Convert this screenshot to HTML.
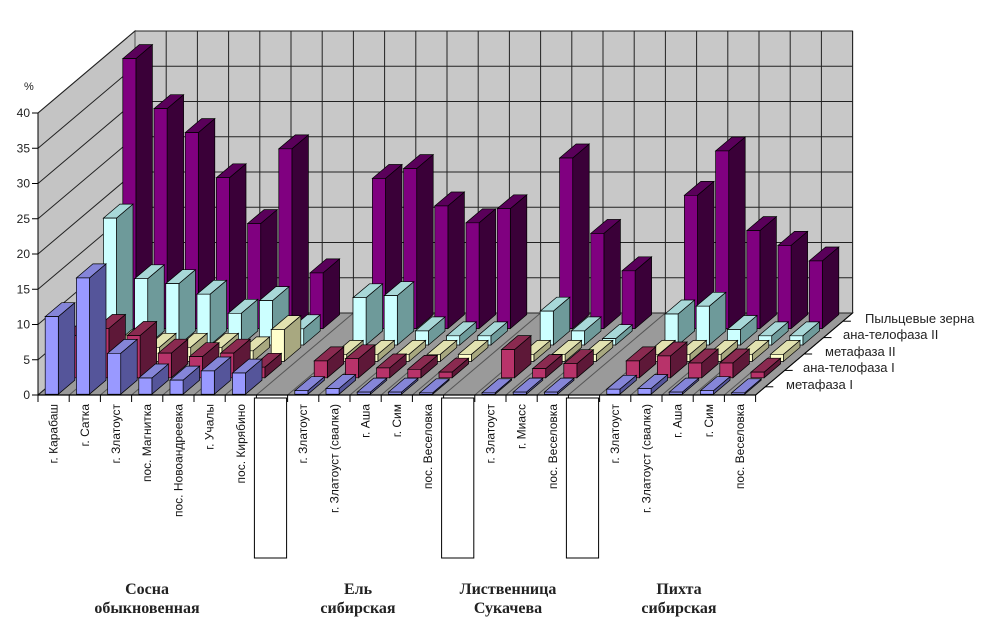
<!DOCTYPE html>
<html><head><meta charset="utf-8"><style>
html,body{margin:0;padding:0;background:#fff;}
svg{display:block;font-family:"Liberation Sans","DejaVu Sans",sans-serif;}
</style></head><body>
<svg id="chart" width="1004" height="643" viewBox="0 0 1004 643" xmlns="http://www.w3.org/2000/svg">
<g id="walls"></g>
<g id="bars"></g>
<g id="axes"></g>
</svg>
<script>
const categories = ["г. Карабаш","г. Сатка","г. Златоуст","пос. Магнитка","пос. Новоандреевка","г. Учалы","пос. Кирябино","",
 "г. Златоуст","г. Златоуст  (свалка)","г. Аша","г. Сим","пос. Веселовка","",
 "г. Златоуст","г. Миасс","пос. Веселовка","",
 "г. Златоуст","г. Златоуст  (свалка)","г. Аша","г. Сим","пос. Веселовка"];
const seriesNames = ["метафаза I","ана-телофаза I","метафаза II","ана-телофаза  II","Пыльцевые зерна"];
const metaphaseI   = [11,16.5,5.8,2.3,2,3.3,3,null, 0.5,0.8,0.3,0.3,0.2,null, 0.2,0.3,0.3,null, 0.7,0.8,0.3,0.5,0.2];
const anaTeloI     = [6,7,6,3.5,3,3.5,1.5,null, 2.4,2.7,1.4,1.2,0.8,null, 4,1.3,2,null, 2.4,3.1,2.1,2.1,0.8];
const metaphaseII  = [2,2.5,2,2,2,1.5,4.5,null, 1,1,1,1,1,null, 1,1,1,null, 1,1,1,1,1];
const anaTeloII    = [18,9.4,8.7,7.2,4.5,6.3,2.3,null, 6.7,7,2,1.3,1.3,null, 4.8,2,0.9,null, 4.4,5.5,2.2,1.3,1.3];
const pollen       = [38.3,31.2,27.8,21.4,14.9,25.5,7.9,null, 21.3,22.7,17.4,15,17,null, 24.2,13.5,8.2,null, 18.9,25.2,13.9,11.8,9.6];
const yTicks = [0,5,10,15,20,25,30,35,40];
const groupLabels = [["Сосна","обыкновенная"],["Ель","сибирская"],["Лиственница","Сукачева"],["Пихта","сибирская"]];
const groupCenters = [147,358,508,679];

const NS="http://www.w3.org/2000/svg";
const X0=38,Y0=395,CW=31.2,DX=19.4,DY=16.4,VS=7.05;
function P(cx,d,v){return [X0+CW*cx+DX*d, Y0-DY*d-VS*v];}
function mk(tag,attrs,parent){const e=document.createElementNS(NS,tag);for(const k in attrs)e.setAttribute(k,attrs[k]);parent.appendChild(e);return e;}
function poly(pts){return pts.map(p=>p[0].toFixed(1)+","+p[1].toFixed(1)).join(" ");}
const walls=document.getElementById('walls'),barsG=document.getElementById('bars'),axes=document.getElementById('axes');
const N=categories.length,D=5,VMAX=40;
let e=mk('polygon',{points:poly([P(0,0,0),P(0,0,VMAX),P(0,D,VMAX),P(0,D,0)]),fill:'#c4c4c4',stroke:'#555','stroke-width':1},walls);

e=mk('polygon',{points:poly([P(0,D,0),P(0,D,VMAX),P(N,D,VMAX),P(N,D,0)]),fill:'#c8c8c8',stroke:'#555','stroke-width':1},walls);

e=mk('polygon',{points:poly([P(0,0,0),P(N,0,0),P(N,D,0),P(0,D,0)]),fill:'#9a9a9a',stroke:'#444','stroke-width':1},walls);

yTicks.forEach(t=>{
  const a=P(0,0,t),b=P(0,D,t),c=P(N,D,t);
  e=mk('polyline',{points:poly([a,b,c]),fill:'none',stroke:'#222','stroke-width':1},walls);
  
});
for(let k=1;k<=N;k++){
  const a=P(k,D,0),b=P(k,D,VMAX);
  e=mk('line',{x1:a[0],y1:a[1],x2:b[0],y2:b[1],stroke:'#222','stroke-width':1},walls);
  
  const f=P(k,0,0);
  e=mk('line',{x1:f[0],y1:f[1],x2:a[0],y2:a[1],stroke:'#555','stroke-width':1},walls);
  
}
const seriesData=[metaphaseI,anaTeloI,metaphaseII,anaTeloII,pollen];
const colors=[["#9999ff","#8585d8","#55559a"],["#b8336a","#8a2a50","#5e1838"],["#ffffcc","#e2e2b0","#a8a880"],["#ccffff","#a8d8d8","#6e9a9a"],["#800080","#5a005a","#3a0038"]];
const seriesKeys=["metaphase-i","ana-telophase-i","metaphase-ii","ana-telophase-ii","pollen"];
for(let r=D-1;r>=0;r--){
  const vals=seriesData[r];
  for(let i=0;i<N;i++){
    const v=vals[i]; if(v==null)continue;
    const x1=i+0.2,x2=i+0.62,d1=r+0.05,d2=r+0.9;
    const g=mk('g',{},barsG);
    
    
    const c=colors[r];
    mk('polygon',{points:poly([P(x2,d1,0),P(x2,d2,0),P(x2,d2,v),P(x2,d1,v)]),fill:c[2],stroke:'#000','stroke-width':0.7},g);
    mk('polygon',{points:poly([P(x1,d1,v),P(x2,d1,v),P(x2,d2,v),P(x1,d2,v)]),fill:c[1],stroke:'#000','stroke-width':0.7},g);
    mk('polygon',{points:poly([P(x1,d1,0),P(x2,d1,0),P(x2,d1,v),P(x1,d1,v)]),fill:c[0],stroke:'#000','stroke-width':0.7},g);
  }
}
let a=P(0,0,0),b=P(N,0,0);
e=mk('line',{x1:a[0],y1:a[1],x2:b[0],y2:b[1],stroke:'#000','stroke-width':1.2},axes);

for(let k=0;k<=N;k++){const p=P(k,0,0);
  e=mk('line',{x1:p[0],y1:p[1],x2:p[0],y2:p[1]+7,stroke:'#000','stroke-width':1},axes);
  }
a=P(0,0,0);b=P(0,0,VMAX);
e=mk('line',{x1:a[0],y1:a[1],x2:b[0],y2:b[1],stroke:'#000','stroke-width':1},axes);

yTicks.forEach(t=>{const p=P(0,0,t);
  e=mk('line',{x1:p[0]-6,y1:p[1],x2:p[0],y2:p[1],stroke:'#000','stroke-width':1},axes);
  
  e=mk('text',{x:p[0]-8,y:p[1]+4,'font-size':12,'text-anchor':'end',fill:'#222'},axes);
  e.textContent=t;
  });
e=mk('text',{x:24,y:90,'font-size':11,fill:'#222'},axes);e.textContent='%';

categories.forEach((c,i)=>{
  const p=P(i+0.5,0,0);
  if(c===''){
    e=mk('rect',{x:P(i,0,0)[0]-2,y:398,width:CW+1,height:160,fill:'#fff',stroke:'#000','stroke-width':1},axes);
    
    return;}
  e=mk('text',{x:0,y:0,'font-size':12,'text-anchor':'end',fill:'#111',transform:`translate(${(p[0]+4).toFixed(1)},404) rotate(-90)`},axes);
  e.textContent=c;
  
});
groupLabels.forEach((gl,k)=>{
  gl.forEach((t,j)=>{
    e=mk('text',{x:groupCenters[k],y:594+j*19,'font-size':16,'font-weight':'bold','text-anchor':'middle','font-family':'"Liberation Serif","DejaVu Serif",serif',fill:'#222'},axes);
    e.textContent=t;
    
  });
});
const labelPosX=[786,803,825,843,865];
const labelPosY=[389,372,356,339,323];
seriesNames.forEach((s,r)=>{
  const p=P(N,r+0.5,0);
  e=mk('line',{x1:p[0],y1:p[1],x2:p[0]+8,y2:p[1],stroke:'#000','stroke-width':1},axes);
  
  e=mk('text',{x:labelPosX[r],y:labelPosY[r],'font-size':13,fill:'#222'},axes);
  e.textContent=s;
  
});
a=P(N,0,0);b=P(N,D,0);
e=mk('line',{x1:a[0],y1:a[1],x2:b[0],y2:b[1],stroke:'#000','stroke-width':1},axes);

</script>
</body></html>
